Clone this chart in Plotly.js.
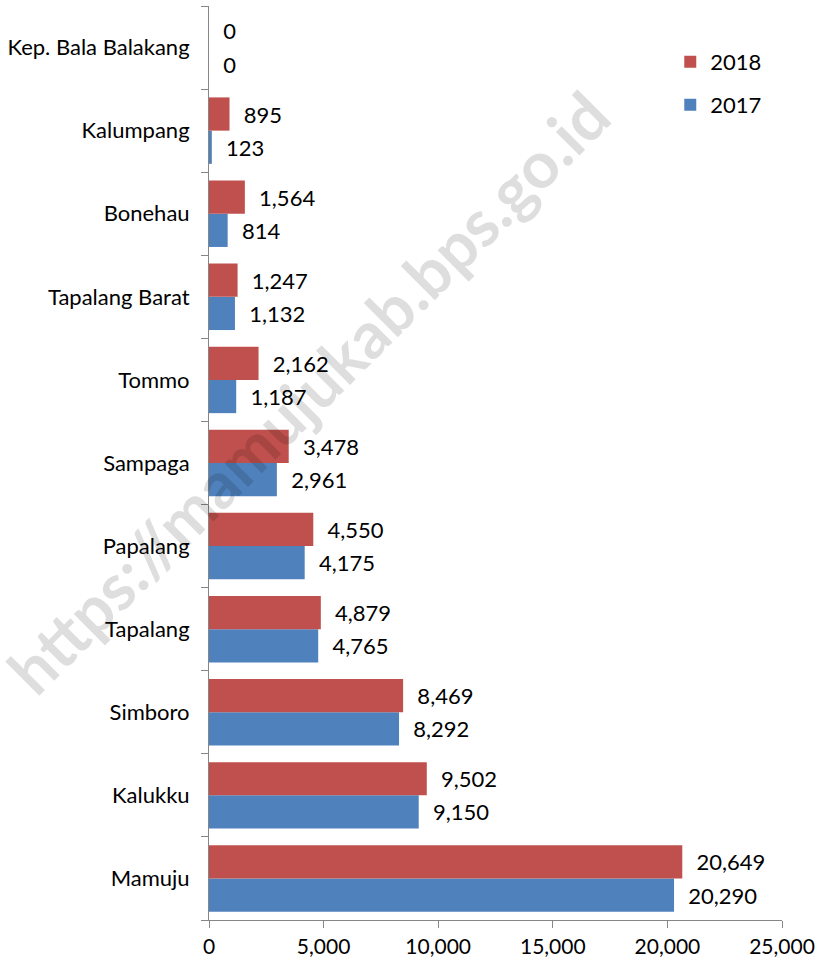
<!DOCTYPE html>
<html>
<head>
<meta charset="utf-8">
<script src="https://cdn.plot.ly/plotly-3.0.1.min.js"></script>
<style>html,body{margin:0;padding:0;background:#fff;}#chart{width:821px;height:962px;}</style>
</head>
<body>
<div id="chart"></div>
<script>
// Categories listed bottom to top
var categories = ["Mamuju", "Kalukku", "Simboro", "Tapalang", "Papalang", "Sampaga", "Tommo", "Tapalang Barat", "Bonehau", "Kalumpang", "Kep. Bala Balakang"];
var values2017 = [20290, 9150, 8292, 4765, 4175, 2961, 1187, 1132, 814, 123, 0];
var values2018 = [20649, 9502, 8469, 4879, 4550, 3478, 2162, 1247, 1564, 895, 0];
var xTicks = [0, 5000, 10000, 15000, 20000, 25000];
var watermarkText = "https://mamujukab.bps.go.id";

var FONT = "Lato, 'Noto Sans', sans-serif";
var labelFont = {family: FONT, size: 22, color: "#000"};
var pad = "\u00a0\u00a0";

var trace2017 = {
  type: "bar", orientation: "h", name: "2017",
  y: categories, x: values2017,
  marker: {color: "#4F81BD"},
  text: values2017.map(function(v){ return pad + v.toLocaleString("en-US"); }),
  texttemplate: "%{text}",
  textposition: "outside", cliponaxis: false, constraintext: "none",
  textfont: labelFont, hoverinfo: "skip", legend: "legend2"
};
var trace2018 = {
  type: "bar", orientation: "h", name: "2018",
  y: categories, x: values2018,
  marker: {color: "#C0504D"},
  text: values2018.map(function(v){ return pad + v.toLocaleString("en-US"); }),
  texttemplate: "%{text}",
  textposition: "outside", cliponaxis: false, constraintext: "none",
  textfont: labelFont, hoverinfo: "skip", legend: "legend"
};

var layout = {
  width: 821, height: 962,
  margin: {l: 209, r: 39, t: 6, b: 42, pad: 0},
  paper_bgcolor: "#fff", plot_bgcolor: "#fff",
  barmode: "group", bargap: 0.2, bargroupgap: 0,
  font: labelFont,
  showlegend: true,
  legend: {x: 0.805, y: 0.9387, xanchor: "left", yanchor: "middle", font: labelFont, bgcolor: "rgba(0,0,0,0)"},
  legend2: {x: 0.805, y: 0.8917, xanchor: "left", yanchor: "middle", font: labelFont, bgcolor: "rgba(0,0,0,0)"},
  xaxis: {
    range: [0, 25000], tickvals: xTicks,
    ticktext: xTicks.map(function(v){ return v.toLocaleString("en-US"); }),
    ticks: "outside", ticklen: 7, tickcolor: "#868686", tickwidth: 1,
    showline: true, linecolor: "#868686", linewidth: 1,
    showgrid: false, zeroline: false, tickfont: {family: FONT, size: 21, color: "#000"}, ticklabelstandoff: 1, fixedrange: true
  },
  yaxis: {
    type: "category", categoryorder: "array", categoryarray: categories,
    range: [-0.5, categories.length - 0.5],
    ticks: "outside", tickson: "boundaries", ticklen: 7, tickcolor: "#868686", tickwidth: 1,
    showline: true, linecolor: "#868686", linewidth: 1,
    showgrid: false, zeroline: false, tickfont: labelFont, ticklabelstandoff: 14, fixedrange: true
  },
  annotations: [{
    text: watermarkText, xref: "paper", yref: "paper",
    x: 0.172, y: 0.578, xanchor: "center", yanchor: "middle",
    textangle: -45, showarrow: false,
    font: {family: FONT, size: 65, weight: "bold", color: "rgba(0,0,0,0.13)"}
  }]
};

Plotly.newPlot("chart", [trace2017, trace2018], layout, {displayModeBar: false, staticPlot: true});
</script>
</body>
</html>
